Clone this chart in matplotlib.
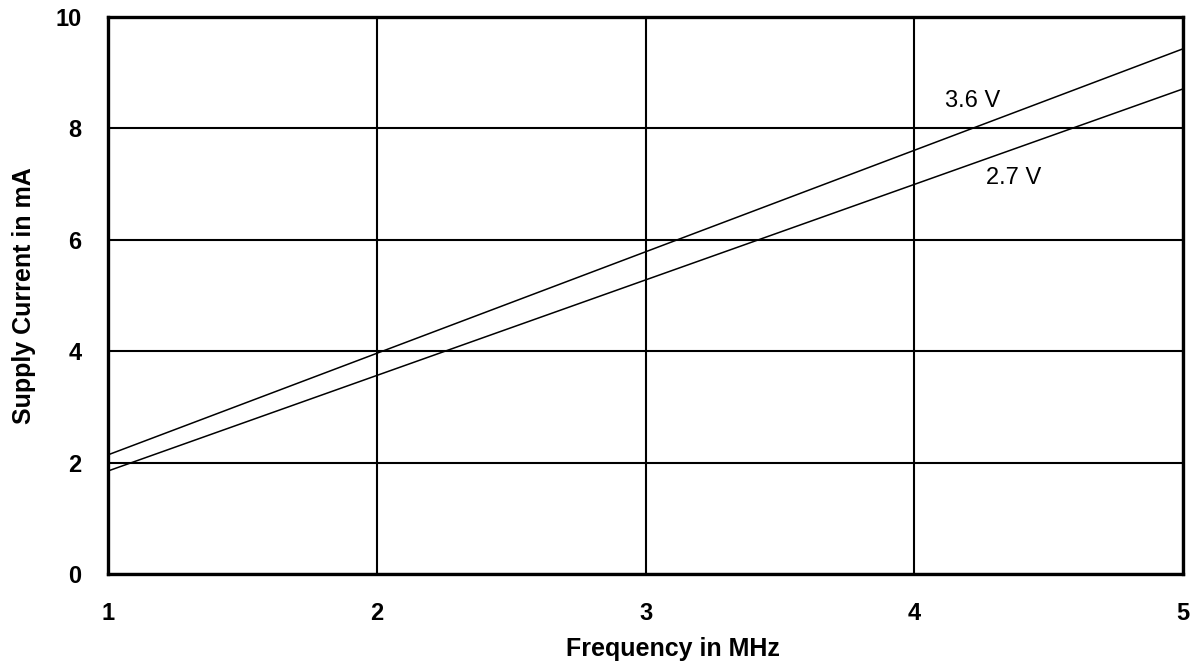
import matplotlib
matplotlib.use("Agg")
import matplotlib.pyplot as plt

# datos (lineas rectas, extremos en 1 y 5 MHz)
freq_mhz = [1, 5]
i_36v = [2.14, 9.43]
i_27v = [1.85, 8.71]

x_ticks = [1, 2, 3, 4, 5]
y_ticks = [0, 2, 4, 6, 8, 10]

plt.rcParams['font.family'] = ['Liberation Sans', 'DejaVu Sans']

fig = plt.figure(figsize=(12.02, 6.67), dpi=100)
ax = fig.add_axes([0.0899, 0.1394, 0.8944, 0.8351])

ax.plot(freq_mhz, i_36v, color='black', linewidth=1.1)
ax.plot(freq_mhz, i_27v, color='black', linewidth=1.1)

ax.text(4.215, 8.49, '3.6 V', fontsize=17, ha='center', va='center')
ax.text(4.37, 7.11, '2.7 V', fontsize=17, ha='center', va='center')

ax.set_xlim(1, 5)
ax.set_ylim(0, 10)
ax.set_xticks(x_ticks)
ax.set_yticks(y_ticks)
ax.tick_params(length=0, labelsize=17)
ax.tick_params(axis='x', pad=20)
ax.tick_params(axis='y', pad=19)
for lab in ax.get_xticklabels() + ax.get_yticklabels():
    lab.set_fontweight('bold')

ax.grid(True, color='black', linewidth=1.5)
for s in ax.spines.values():
    s.set_linewidth(2.4)

ax.set_xlabel('Frequency in MHz', fontsize=18, fontweight='bold', labelpad=9)
ax.xaxis.label.set_x(0.525)
ax.set_ylabel('Supply Current in mA', fontsize=18, fontweight='bold', labelpad=14)

fig.savefig('out.png', dpi=100)
